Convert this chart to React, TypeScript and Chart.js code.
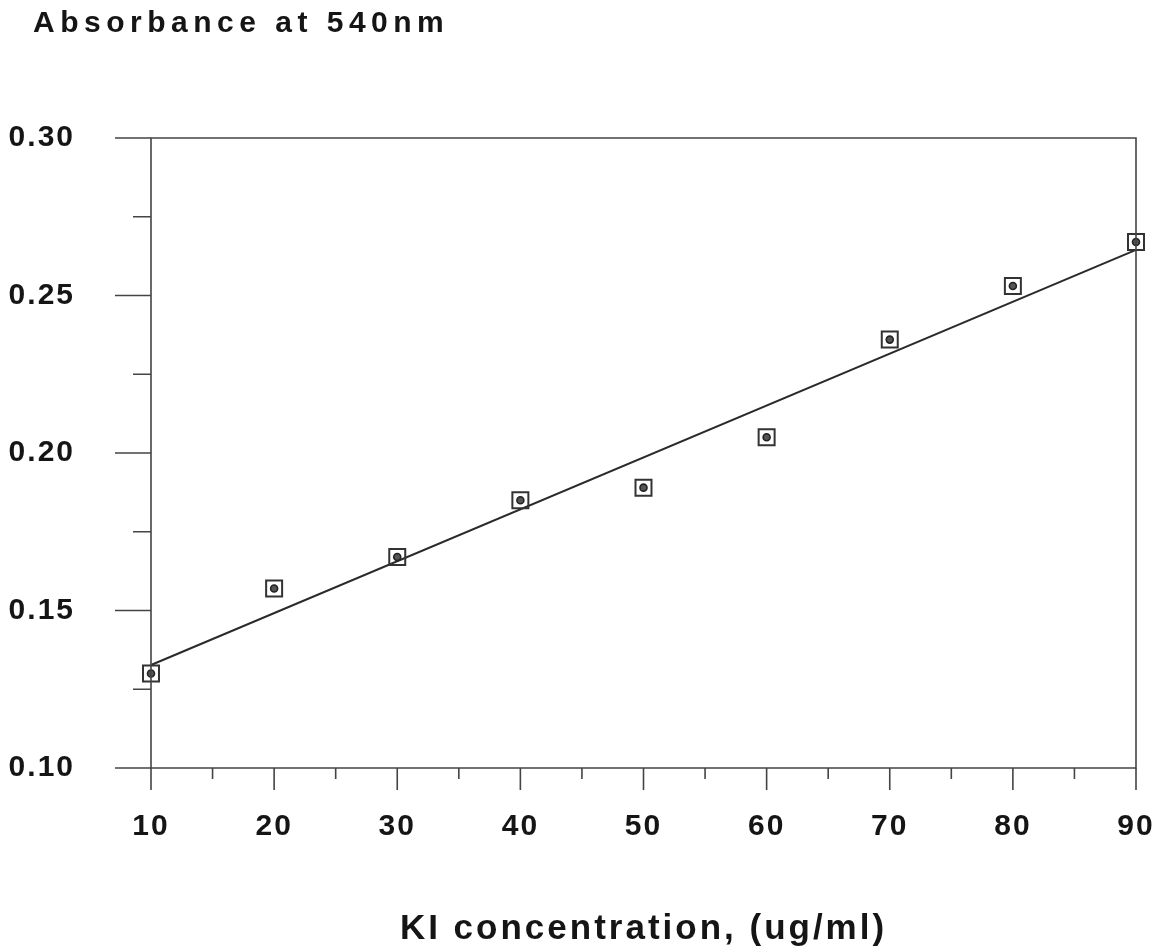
import React, { useEffect, useRef } from 'react';
import { Chart, registerables } from 'chart.js';

Chart.register(...registerables);

// ---- data ----
const concentration = [10, 20, 30, 40, 50, 60, 70, 80, 90];
const absorbance = [0.13, 0.157, 0.167, 0.185, 0.189, 0.205, 0.236, 0.253, 0.267];
const fitX = [10, 90];
const fitY = [0.1327, 0.2645];

const xMajorTicks = [10, 20, 30, 40, 50, 60, 70, 80, 90];
const xTickLabels = ['10', '20', '30', '40', '50', '60', '70', '80', '90'];
const xMinorTicks = [15, 25, 35, 45, 55, 65, 75, 85];
const yMajorTicks = [0.1, 0.15, 0.2, 0.25, 0.3];
const yTickLabels = ['0.10', '0.15', '0.20', '0.25', '0.30'];
const yMinorTicks = [0.125, 0.175, 0.225, 0.275];

const chartTitle = 'Absorbance at 540nm';
const xAxisTitle = 'KI concentration, (ug/ml)';

const FONT = "'Liberation Sans', Arial, Helvetica, sans-serif";
const AXIS_COLOR = '#444';

const framePlugin = {
  id: 'frameAndTicks',
  beforeDraw(chart: any) {
    chart.ctx.letterSpacing = '2px';
  },
  afterLayout(chart: any) {
    const tb = chart.titleBlock;
    if (tb && !tb.__wrapped) {
      const orig = tb.draw;
      tb.draw = function (...args: any[]) {
        const ctx = chart.ctx;
        ctx.save();
        ctx.translate(33, 0);
        ctx.letterSpacing = '5.5px';
        orig.apply(this, args);
        ctx.restore();
      };
      tb.__wrapped = true;
    }
    const xs = chart.scales.x;
    if (xs && !xs.__wrapped) {
      const origTitle = xs.drawTitle;
      xs.drawTitle = function (...args: any[]) {
        const ctx = chart.ctx;
        ctx.save();
        ctx.letterSpacing = '3px';
        origTitle.apply(this, args);
        ctx.restore();
      };
      xs.__wrapped = true;
    }
  },
  afterDatasetsDraw(chart: any) {
    const ctx = chart.ctx;
    const meta = chart.getDatasetMeta(0);
    ctx.save();
    meta.data.forEach((pt: any) => {
      ctx.beginPath();
      ctx.arc(pt.x, pt.y, 3.5, 0, Math.PI * 2);
      ctx.fillStyle = '#555';
      ctx.fill();
      ctx.lineWidth = 1.6;
      ctx.strokeStyle = '#222';
      ctx.stroke();
    });
    ctx.restore();
  },
  afterDraw(chart: any) {
    const ctx = chart.ctx;
    const { left, right, top, bottom } = chart.chartArea;
    const xs = chart.scales.x;
    const ys = chart.scales.y;
    ctx.save();
    ctx.strokeStyle = AXIS_COLOR;
    ctx.lineWidth = 1.6;
    ctx.beginPath();
    ctx.rect(left, top, right - left, bottom - top);
    ctx.stroke();
    ctx.beginPath();
    yMajorTicks.forEach((v) => {
      const y = ys.getPixelForValue(v);
      ctx.moveTo(left - 36, y);
      ctx.lineTo(left, y);
    });
    yMinorTicks.forEach((v) => {
      const y = ys.getPixelForValue(v);
      ctx.moveTo(left - 18, y);
      ctx.lineTo(left, y);
    });
    xMajorTicks.forEach((v) => {
      const x = xs.getPixelForValue(v);
      ctx.moveTo(x, bottom);
      ctx.lineTo(x, bottom + 22);
    });
    xMinorTicks.forEach((v) => {
      const x = xs.getPixelForValue(v);
      ctx.moveTo(x, bottom);
      ctx.lineTo(x, bottom + 11);
    });
    ctx.stroke();
    ctx.restore();
  },
};

export default function App() {
  const canvasRef = useRef<HTMLCanvasElement | null>(null);

  useEffect(() => {
    if (!canvasRef.current) return;
    const chart = new Chart(canvasRef.current, {
      type: 'scatter',
      data: {
        datasets: [
          {
            label: 'Absorbance',
            data: concentration.map((c, i) => ({ x: c, y: absorbance[i] })),
            pointStyle: 'rect',
            pointRadius: 11.3,
            pointBorderWidth: 2,
            pointBorderColor: '#333',
            pointBackgroundColor: 'rgba(255,255,255,0)',
            showLine: false,
            clip: false,
          } as any,
          {
            label: 'Fit',
            type: 'line',
            data: fitX.map((x, i) => ({ x, y: fitY[i] })),
            borderColor: '#2a2a2a',
            borderWidth: 2,
            pointRadius: 0,
            fill: false,
            clip: false,
          } as any,
        ],
      },
      options: {
        responsive: false,
        animation: false,
        layout: { padding: { left: 0, right: 18, top: 0, bottom: 0 } },
        plugins: {
          legend: { display: false },
          tooltip: { enabled: false },
          title: {
            display: true,
            text: chartTitle,
            align: 'start',
            color: '#151515',
            font: { family: FONT, size: 30, weight: 'bold' },
            padding: { top: 6, bottom: 96 },
          },
        },
        scales: {
          x: {
            type: 'linear',
            min: 10,
            max: 90,
            grid: { display: false, drawTicks: false },
            border: { display: false },
            afterBuildTicks: (s: any) => {
              s.ticks = xMajorTicks.map((v) => ({ value: v }));
            },
            afterFit: (s: any) => {
              s.height = 182;
              s.paddingLeft = 0;
              s.paddingRight = 0;
            },
            ticks: {
              padding: 41,
              maxRotation: 0,
              autoSkip: false,
              color: '#151515',
              font: { family: FONT, size: 30, weight: 'bold' },
              callback: (_v: any, i: number) => xTickLabels[i],
            },
            title: {
              display: true,
              text: xAxisTitle,
              color: '#151515',
              font: { family: FONT, size: 35, weight: 'bold' },
              padding: { top: 0, bottom: 0 },
            },
          },
          y: {
            type: 'linear',
            min: 0.1,
            max: 0.3,
            grid: { display: false, drawTicks: false },
            border: { display: false },
            afterBuildTicks: (s: any) => {
              s.ticks = yMajorTicks.map((v) => ({ value: v }));
            },
            afterFit: (s: any) => {
              s.width = 151;
              s.paddingTop = 0;
              s.paddingBottom = 0;
            },
            ticks: {
              padding: 76,
              color: '#151515',
              font: { family: FONT, size: 30, weight: 'bold' },
              callback: (_v: any, i: number) => yTickLabels[i],
            },
          },
        },
      },
      plugins: [framePlugin],
    } as any);
    return () => chart.destroy();
  }, []);

  return (
    <div style={{ position: 'absolute', left: 0, top: 0, width: 1154, height: 950, background: '#fff' }}>
      <canvas ref={canvasRef} width={1154} height={950} style={{ display: 'block' }} />
    </div>
  );
}
